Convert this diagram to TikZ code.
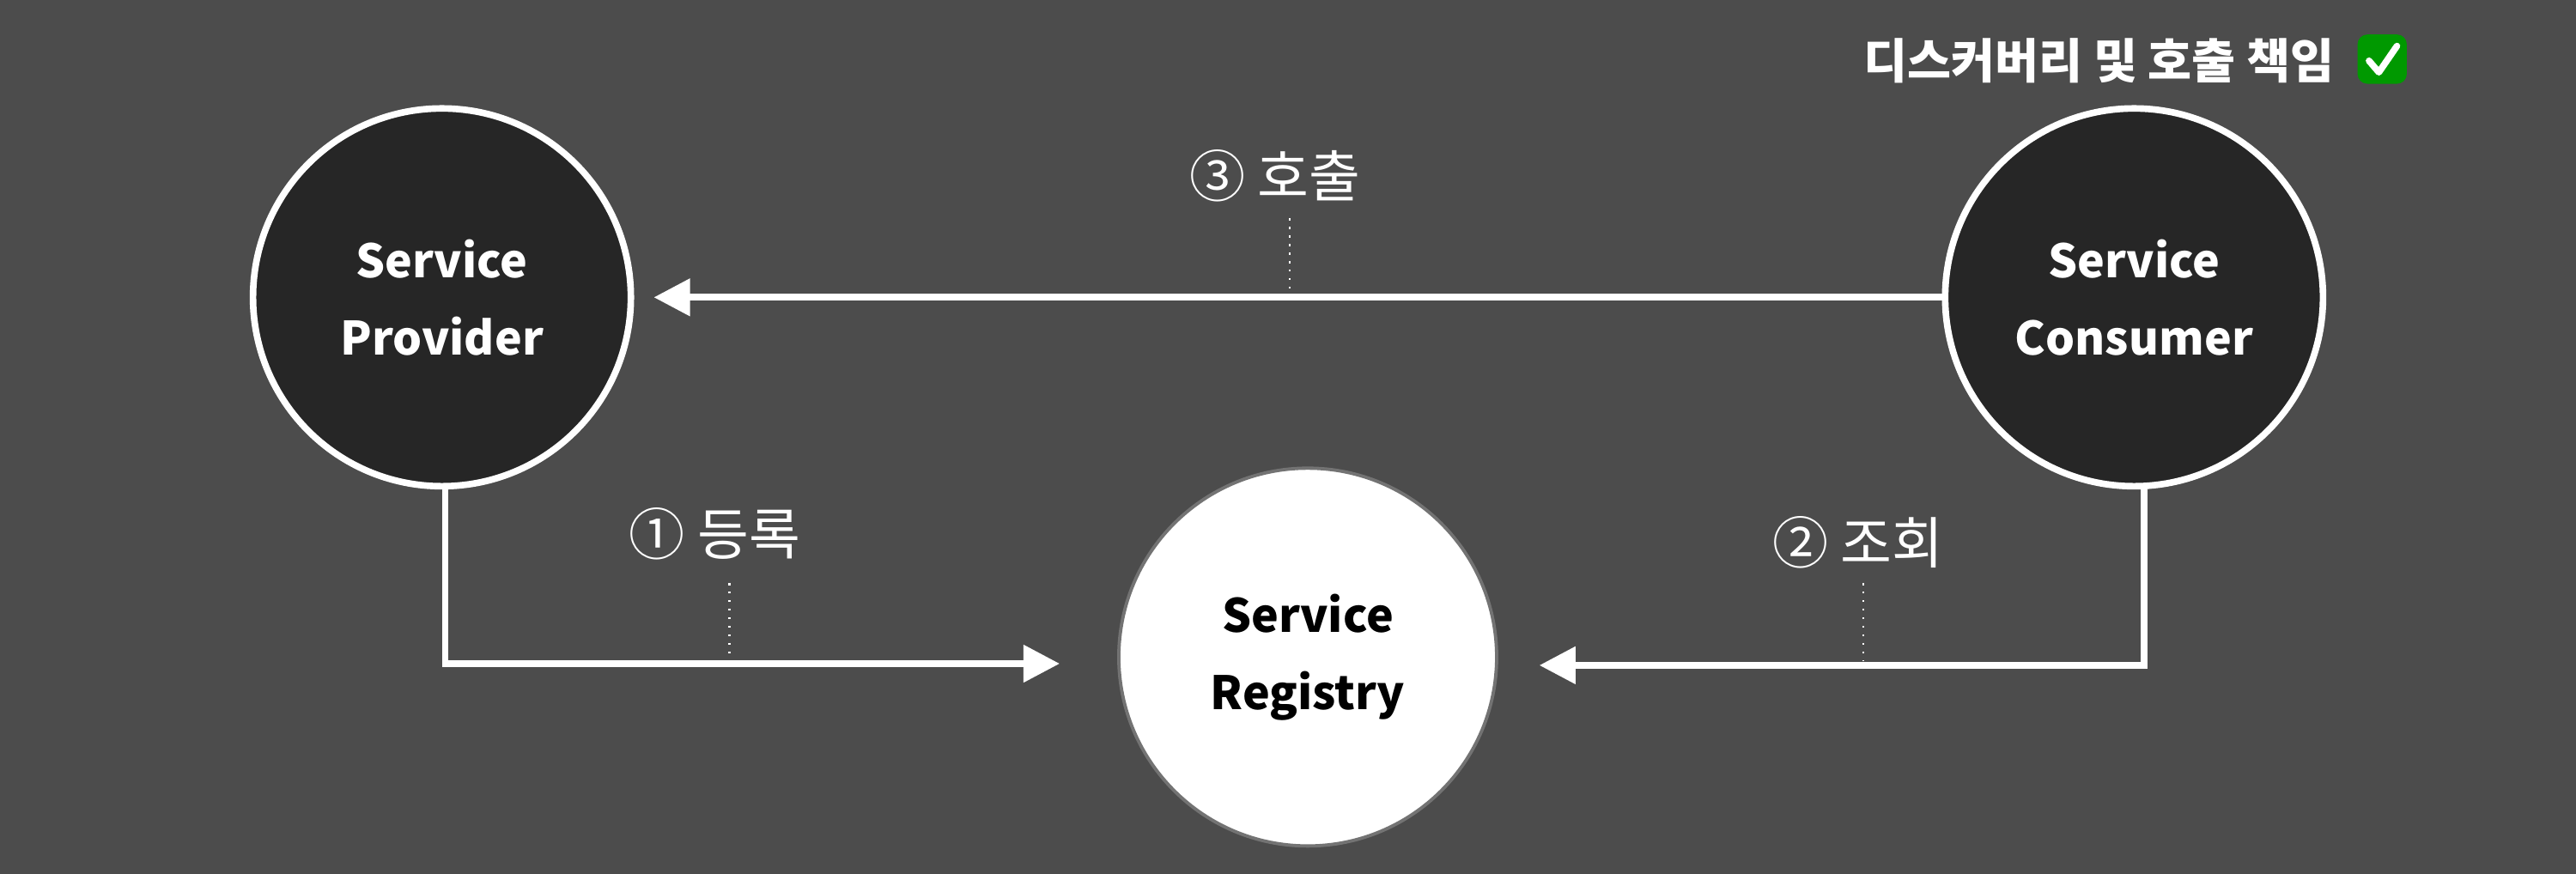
\documentclass[tikz,border=0pt]{standalone}
\usepackage{fontspec}
\setmainfont{Noto Sans CJK KR}
\usetikzlibrary{arrows.meta}
\begin{document}
\begin{tikzpicture}[x=0.5pt,y=-0.5pt,
  svc/.style={circle,minimum size=115pt,draw=white,line width=2pt,fill=black!85,text=white,font=\fontsize{14}{23.5}\selectfont\bfseries,align=center},
  reg/.style={circle,minimum size=115pt,draw=black!55,line width=1pt,fill=white,text=black,font=\fontsize{14}{23.5}\selectfont\bfseries,align=center},
  conn/.style={draw=white,line width=2pt,-{Triangle[length=11pt,width=11pt]}},
  lbl/.style={text=white,font=\fontsize{17}{20}\selectfont},
  tick/.style={draw=white,dotted,line width=0.6pt}]
\fill[fill=black!70] (0,0) rectangle (1568,532);
\useasboundingbox (0,0) rectangle (1568,532);
\node[svc] (prov) at (269,181) {Service\\Provider};
\node[svc] (cons) at (1299,181) {Service\\Consumer};
\node[reg] (regi) at (796,400) {Service\\Registry};
\coordinate (pb) at (271,296);
\coordinate (pc) at (271,404);
\coordinate (pe) at (645,404);
\coordinate (cb) at (1305,296);
\coordinate (cc) at (1305,405);
\coordinate (ce) at (937,405);
\coordinate (ts) at (1184,181);
\coordinate (te) at (398,181);
\draw[conn] (ts) -- (te);
\draw[conn] (pb) -- (pc) -- (pe);
\draw[conn] (cb) -- (cc) -- (ce);
\node[lbl] (l3) at (776,107) {③ 호출};
\node[lbl] (l1) at (435,325) {① 등록};
\node[lbl] (l2) at (1131,330) {② 조회};
\coordinate (t3a) at (785,133); \coordinate (t3b) at (785,178);
\coordinate (t1a) at (444,355); \coordinate (t1b) at (444,401);
\coordinate (t2a) at (1134,355); \coordinate (t2b) at (1134,402);
\draw[tick] (t3a) -- (t3b);
\draw[tick] (t1a) -- (t1b);
\draw[tick] (t2a) -- (t2b);
\node[text=white,font=\fontsize{14.5}{16}\selectfont\bfseries,anchor=east] (title) at (1428,37) {디스커버리 및 호출 책임};
\node[fill=green!60!black,rounded corners=3pt,minimum size=15pt,inner sep=0] (chk) at (1450,36) {};
\draw[white,line width=2pt,line cap=round,line join=round] (1442,37) -- (1448,44) -- (1459,28);
\end{tikzpicture}
\end{document}
